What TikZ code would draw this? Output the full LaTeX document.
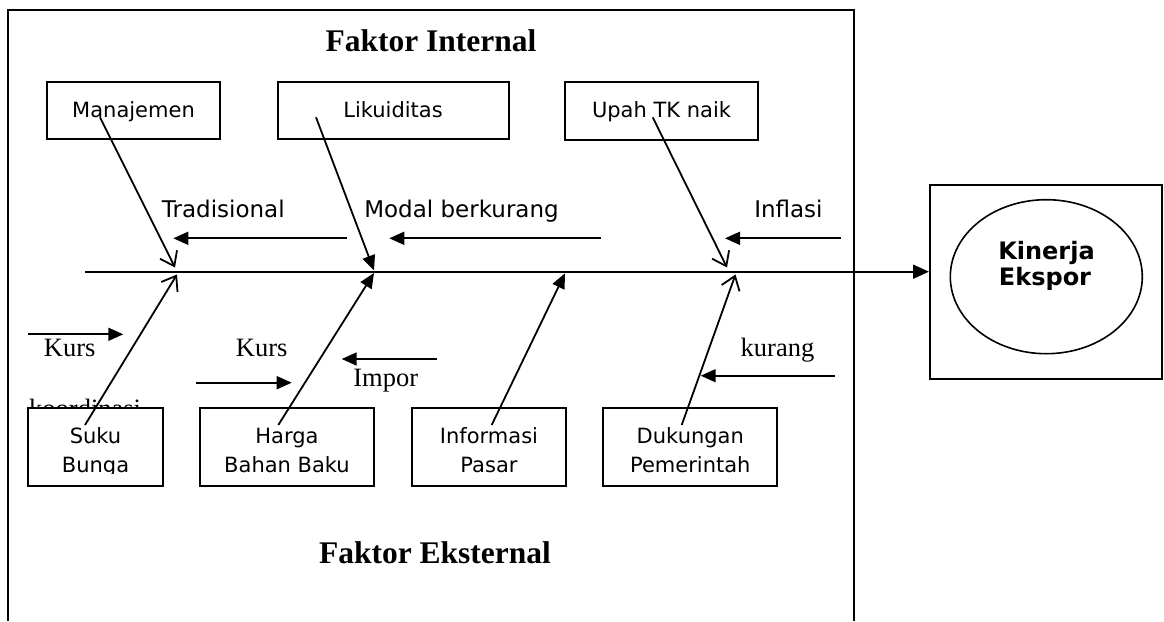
\documentclass[tikz,border=0pt]{standalone}
\usepackage{fontspec}
\setmainfont{Liberation Serif}
\newfontfamily\boxfont{DejaVu Sans}
\usetikzlibrary{arrows.meta,shapes.geometric}
\tikzset{
  frame/.style={line width=2pt},
  fbox/.style={draw, line width=2pt, fill=white, inner sep=0pt},
  boxtxt/.style={font=\boxfont\fontsize{21}{29}\selectfont, inner sep=0pt, anchor=base, align=center},
  lbl/.style={font=\boxfont\fontsize{23}{28}\selectfont, inner sep=0pt, anchor=base},
  slbl/.style={font=\fontsize{26.5}{30}\selectfont, inner sep=0pt, anchor=base},
  title/.style={font=\bfseries\fontsize{31.5}{36}\selectfont, inner sep=0pt, anchor=base},
  bone/.style={line width=1.8pt},
  openhead/.style={bone, -{Straight Barb[length=13pt,width=19pt,line width=1.8pt]}},
  fillhead/.style={bone, -{Triangle[length=15pt,width=13pt]}},
}
\begin{document}
\begin{tikzpicture}[x=1pt,y=-1pt]
\useasboundingbox (0,0) rectangle (1164,621);
% outer frame (bottom cut off)
\draw[frame] (8,621) -- (8,10) -- (854,10) -- (854,621);
% titles
\node[title] (tin) at (431,51.7) {Faktor Internal};
\node[title] (tex) at (435,563.3) {Faktor Eksternal};
% text partly hidden behind box
\node[slbl, anchor=base west] (koor) at (29,417.5) {koordinasi};
% top boxes
\node[fbox, minimum width=173pt, minimum height=57pt] (man) at (133.5,110.5) {};
\node[fbox, minimum width=231pt, minimum height=57pt] (lik) at (393,110.5) {};
\node[fbox, minimum width=193pt, minimum height=58pt] (upah) at (661.5,111) {};
\node[boxtxt] at (133.5,117.3) {Manajemen};
\node[boxtxt] at (393,117.3) {Likuiditas};
\node[boxtxt] at (661.5,117.3) {Upah TK naik};
% bottom boxes
\node[fbox, minimum width=135pt, minimum height=78pt] (suku) at (95.5,447) {};
\node[fbox, minimum width=174pt, minimum height=78pt] (harga) at (287,447) {};
\node[fbox, minimum width=154pt, minimum height=78pt] (info) at (489,447) {};
\node[fbox, minimum width=174pt, minimum height=78pt] (duk) at (690.3,447) {};
\begin{scope}
\clip (0,0) rectangle (1164,473.5);
\node[boxtxt] at (95.5,472.3) {Suku\\Bunga};
\node[boxtxt] at (287,472.3) {Harga\\Bahan Baku};
\node[boxtxt] at (489,472.3) {Informasi\\Pasar};
\node[boxtxt] at (690.3,472.3) {Dukungan\\Pemerintah};
\end{scope}
% result
\node[draw, line width=2pt, minimum width=232pt, minimum height=194pt, inner sep=0pt] (kbox) at (1046,282) {};
\node[draw, ellipse, line width=1.6pt, minimum width=192pt, minimum height=154pt, inner sep=0pt] (kin) at (1046.3,276.7) {};
\node[font=\boxfont\bfseries\fontsize{24}{26}\selectfont, inner sep=0pt, anchor=base] at (1046.5,259.3) {Kinerja};
\node[font=\boxfont\bfseries\fontsize{24}{26}\selectfont, inner sep=0pt, anchor=base] at (1045,285) {Ekspor};
% spine
\coordinate (sp0) at (85,271.7);
\draw[bone, -{Triangle[length=16pt,width=14pt]}] (sp0) -- (sp0 -| kbox.west);
% top bones
\coordinate (m0) at (100,117.3);  \coordinate (m1) at (175,267.5);
\coordinate (l0) at (316,117.3);  \coordinate (l1) at (374,270.5);
\coordinate (u0) at (652.7,117.3);\coordinate (u1) at (727,267.5);
\draw[openhead] (m0) -- (m1);
\draw[fillhead] (l0) -- (l1);
\draw[openhead] (u0) -- (u1);
% bottom bones
\coordinate (s0) at (85,425);     \coordinate (s1) at (177,274.5);
\coordinate (h0) at (278.3,425);  \coordinate (h1) at (374,273);
\coordinate (i0) at (491.7,425);  \coordinate (i1) at (565,273.3);
\coordinate (d0) at (681.7,425);  \coordinate (d1) at (735.5,274.5);
\draw[openhead] (s0) -- (s1);
\draw[fillhead] (h0) -- (h1);
\draw[fillhead] (i0) -- (i1);
\draw[openhead] (d0) -- (d1);
% top labels and arrows
\node[lbl] (trad) at (223.3,217.3) {Tradisional};
\node[lbl] (modal) at (461.5,217.3) {Modal berkurang};
\node[lbl] (infl) at (788.4,217.3) {Inflasi};
\coordinate (t0) at (346.7,238.3); \coordinate (t1) at (173.3,238.3);
\coordinate (mo0) at (600.7,238.3); \coordinate (mo1) at (389.3,238.3);
\coordinate (f0) at (840.7,238.3); \coordinate (f1) at (725,238.3);
\draw[fillhead] (t0) -- (t1);
\draw[fillhead] (mo0) -- (mo1);
\draw[fillhead] (f0) -- (f1);
% bottom labels and arrows
\node[slbl] (kurs1) at (69.7,356) {Kurs};
\node[slbl] (kurs2) at (261.7,356) {Kurs};
\node[slbl] (impor) at (385.8,386) {Impor};
\node[slbl] (kur) at (777.5,356.7) {kurang};
\coordinate (k10) at (27.7,334.3); \coordinate (k11) at (123.3,334.3);
\coordinate (k20) at (196,382.7); \coordinate (k21) at (291.7,382.7);
\coordinate (im0) at (437.3,359); \coordinate (im1) at (341.7,359);
\coordinate (ku0) at (835,375.7); \coordinate (ku1) at (700.7,375.7);
\draw[fillhead] (k10) -- (k11);
\draw[fillhead] (k20) -- (k21);
\draw[fillhead] (im0) -- (im1);
\draw[fillhead] (ku0) -- (ku1);
\end{tikzpicture}
\end{document}
